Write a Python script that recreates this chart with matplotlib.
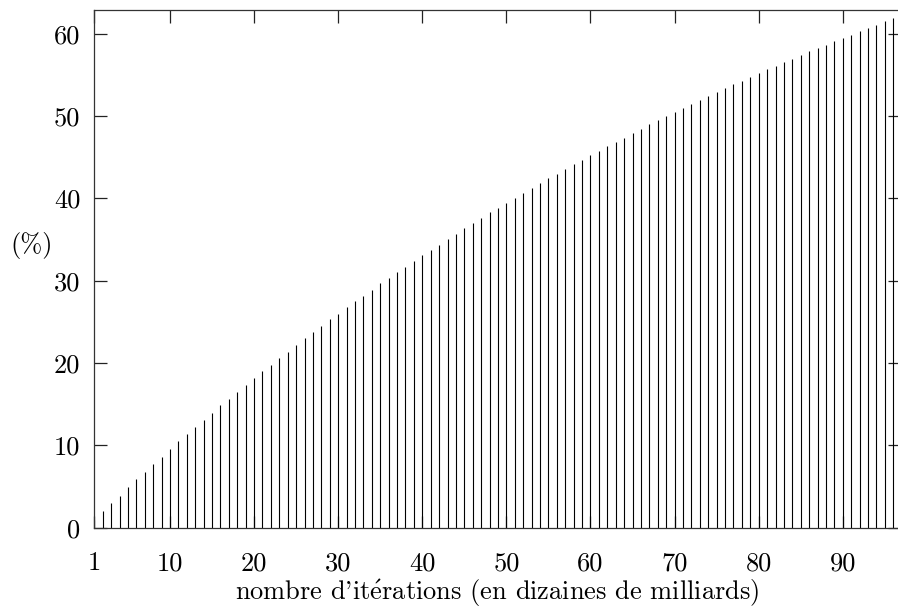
import matplotlib
matplotlib.use("Agg")
import matplotlib.pyplot as plt

# iterations (tens of billions) and probability in %
iterations = list(range(1, 97))
pourcentage = [
    1.0, 2.0, 3.0, 3.9, 4.9, 5.9, 6.8, 7.7, 8.6, 9.6,
    10.5, 11.4, 12.2, 13.1, 14.0, 14.9, 15.7, 16.5, 17.4, 18.2,
    19.0, 19.8, 20.6, 21.4, 22.2, 23.0, 23.8, 24.5, 25.3, 26.0,
    26.8, 27.5, 28.2, 28.9, 29.7, 30.4, 31.1, 31.7, 32.4, 33.1,
    33.8, 34.4, 35.1, 35.7, 36.4, 37.0, 37.6, 38.3, 38.9, 39.5,
    40.1, 40.7, 41.3, 41.9, 42.5, 43.0, 43.6, 44.2, 44.7, 45.3,
    45.8, 46.4, 46.9, 47.4, 48.0, 48.5, 49.0, 49.5, 50.0, 50.5,
    51.0, 51.5, 52.0, 52.5, 52.9, 53.4, 53.9, 54.3, 54.8, 55.2,
    55.7, 56.1, 56.6, 57.0, 57.4, 57.9, 58.3, 58.7, 59.1, 59.5,
    59.9, 60.3, 60.7, 61.1, 61.5, 61.9,
]
xticks = [1, 10, 20, 30, 40, 50, 60, 70, 80, 90]
yticks = [0, 10, 20, 30, 40, 50, 60]

plt.rcParams["font.family"] = ["cmr10", "DejaVu Serif"]
plt.rcParams["mathtext.fontset"] = "cm"
plt.rcParams["axes.unicode_minus"] = False

fig = plt.figure(figsize=(8.98, 6.08), dpi=100)
ax = fig.add_axes([0.105, 0.132, 0.8972, 0.8516])

ax.vlines(iterations, 0, pourcentage, colors="black", linewidth=0.8)

ax.set_xlim(1, 96.8)
ax.set_ylim(0, 62.9)
ax.set_xticks(xticks)
ax.set_yticks(yticks)

for s in ax.spines.values():
    s.set_linewidth(0.9)
    s.set_color("#333333")

ax.tick_params(direction="in", length=9, width=0.9, color="#222222",
               top=True, right=True, labelsize=19)
ax.tick_params(axis="x", pad=17)
ax.tick_params(axis="y", pad=10)

ax.set_xlabel("nombre d'it$\\acute{\\mathrm{e}}$rations (en dizaines de milliards)",
              fontsize=19, labelpad=2)
ax.set_ylabel("(%)", fontsize=19, rotation=0, ha="center", va="center")
ax.yaxis.set_label_coords(-0.0775, 0.546)

fig.savefig("out.png", dpi=100)
